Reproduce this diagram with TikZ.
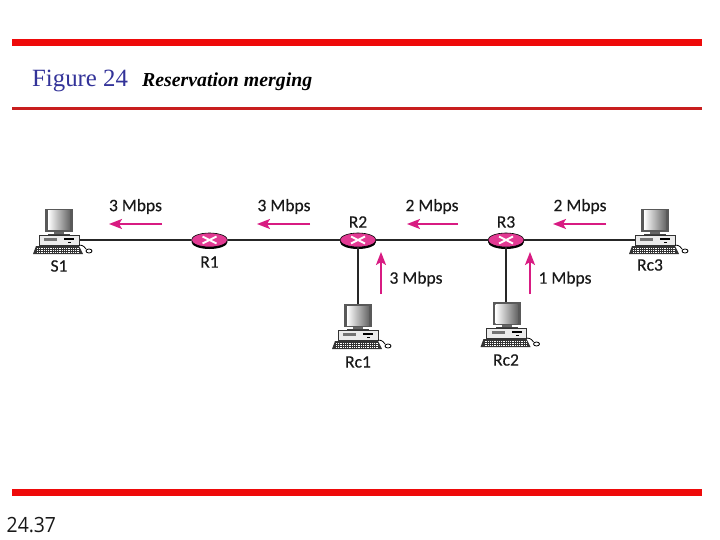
\documentclass[tikz,border=0pt]{standalone}
\usepackage{fontspec}
\setmainfont{Liberation Serif}
\newfontfamily\labelfont[FakeBold=0.3]{Carlito}
\newfontfamily\pagefont[FakeStretch=0.92]{Open Sans}
\usetikzlibrary{shapes.geometric,arrows.meta}
\definecolor{barred}{HTML}{EE0A0A}
\definecolor{thinred}{HTML}{C81E1E}
\definecolor{titleblue}{HTML}{333399}
\definecolor{rate}{HTML}{D81B82}
\definecolor{routerpink}{HTML}{E23A93}
\tikzset{
  x=1pt,y=-1pt,
  rbar/.style={fill=barred,draw=none},
  link/.style={draw=black!85,line width=2pt},
  ratearrow/.style={draw=rate,line width=2pt,-{Stealth[length=13pt,width=10pt,inset=3pt]}},
  ratelabel/.style={font=\labelfont\fontsize{17.5}{17.5}\selectfont,text=black!90,inner sep=0pt},
  namelabel/.style={font=\labelfont\fontsize{17.5}{17.5}\selectfont,text=black!90,inner sep=0pt},
  router/.style={ellipse,fill=routerpink,draw=black,line width=.6pt,minimum width=36pt,minimum height=14pt,inner sep=0pt},
  hostbox/.style={rectangle,minimum width=40pt,minimum height=10pt,inner sep=0pt},
  computer/.pic={
    % monitor
    \fill[black!65] (-14,-31) rectangle (14,-8);
    \shade[left color=white,right color=black!60] (-11,-29) rectangle (11,-10);
    \fill[black!60] (-5,-8) rectangle (5,-6);
    \fill[black!75] (-11,-6) rectangle (11,-4.5);
    % base
    \draw[black!80,line width=.9pt,fill=black!8] (-20,-5) rectangle (20,5);
    \fill[black!55] (-15,-2.5) rectangle (-2,0.5);
    \fill[black] (5,-2) rectangle (15,-.4);
    \fill[black] (9,1.5) rectangle (12,3.2);
    % keyboard
    \fill[black!80] (-23,6) -- (20,6) -- (24,14) -- (-26,14) -- cycle;
    \foreach \k in {8,10,12}{\draw[white,line width=.45pt,dash pattern=on 1pt off .8pt] (-22,\k) -- (21,\k);}
    % mouse
    \draw[black,line width=.8pt] (20,5) .. controls (25,5) and (26,8) .. (27,9);
    \draw[black,line width=.8pt,fill=white] (30,11) ellipse [x radius=3pt,y radius=2pt];
  },
  routerx/.pic={
    \draw[white,line width=2pt] (-7,-3.5) -- (7,3.5) (-7,3.5) -- (7,-3.5);
  },
}
\begin{document}
\begin{tikzpicture}
\useasboundingbox (0,0) rectangle (720,540);
\fill[white] (0,0) rectangle (720,540);
% rules
\fill[rbar] (12,39) rectangle (702,46);
\fill[thinred] (12,107) rectangle (702,110);
\fill[rbar] (12,489) rectangle (702,496);
% titles
\node[anchor=base west,inner sep=0pt,text=titleblue,font=\fontsize{24.8}{24.8}\selectfont] (fig) at (32,87) {Figure 24};
\node[anchor=base west,inner sep=0pt,font=\bfseries\itshape\fontsize{19.8}{19.8}\selectfont] (sub) at (142,87) {Reservation merging};
\node[anchor=base west,inner sep=0pt,text=black!90,font=\pagefont\fontsize{21}{21}\selectfont] (page) at (6.5,532) {24.37};
% routers (dark underside first)
\fill[black] (209.5,242) ellipse [x radius=18pt,y radius=7pt];
\fill[black] (358,242) ellipse [x radius=18pt,y radius=7pt];
\fill[black] (506,242) ellipse [x radius=18pt,y radius=7pt];
\node[router] (R1) at (209.5,240) {};
\node[router] (R2) at (358,240) {};
\node[router] (R3) at (506,240) {};
\pic at (R1) {routerx};
\pic at (R2) {routerx};
\pic at (R3) {routerx};
% hosts
\node[hostbox] (S1) at (59,240) {};
\node[hostbox] (Rc1) at (358,335) {};
\node[hostbox] (Rc2) at (506.5,333) {};
\node[hostbox] (Rc3) at (655,240) {};
% links
\draw[link] (S1.east) -- (R1.west);
\draw[link] (R1.east) -- (R2.west);
\draw[link] (R2.east) -- (R3.west);
\draw[link] (R3.east) -- (Rc3.west);
\draw[link] (R2.south) -- (R2.south |- Rc1.north);
\draw[link] (R3.south) -- (R3.south |- Rc2.north);
\pic at (S1) {computer};
\pic at (Rc1) {computer};
\pic at (Rc2) {computer};
\pic at (Rc3) {computer};
% names
\node[namelabel] (lS1) at (59,266) {S1};
\node[namelabel] (lR1) at (209.5,262) {R1};
\node[namelabel] (lR2) at (358,222) {R2};
\node[namelabel] (lR3) at (506,222) {R3};
\node[namelabel] (lRc1) at (358,362) {Rc1};
\node[namelabel] (lRc2) at (506,360) {Rc2};
\node[namelabel] (lRc3) at (650,265) {Rc3};
% rates
\coordinate (a1s) at (162,224); \coordinate (a1e) at (109,224);
\coordinate (a2s) at (310,224); \coordinate (a2e) at (257,224);
\coordinate (a3s) at (458,224); \coordinate (a3e) at (407,224);
\coordinate (a4s) at (606,224); \coordinate (a4e) at (553,224);
\coordinate (a5s) at (381,294); \coordinate (a5e) at (381,252);
\coordinate (a6s) at (530,294); \coordinate (a6e) at (530,252);
\draw[ratearrow] (a1s) -- (a1e);
\draw[ratearrow] (a2s) -- (a2e);
\draw[ratearrow] (a3s) -- (a3e);
\draw[ratearrow] (a4s) -- (a4e);
\draw[ratearrow] (a5s) -- (a5e);
\draw[ratearrow] (a6s) -- (a6e);
\node[ratelabel] (r1) at (135.5,206.5) {3 Mbps};
\node[ratelabel] (r2) at (284,206.5) {3 Mbps};
\node[ratelabel] (r3) at (432,206.5) {2 Mbps};
\node[ratelabel] (r4) at (580,206.5) {2 Mbps};
\node[ratelabel] (r5) at (416,279) {3 Mbps};
\node[ratelabel] (r6) at (565,279) {1 Mbps};
\end{tikzpicture}
\end{document}
